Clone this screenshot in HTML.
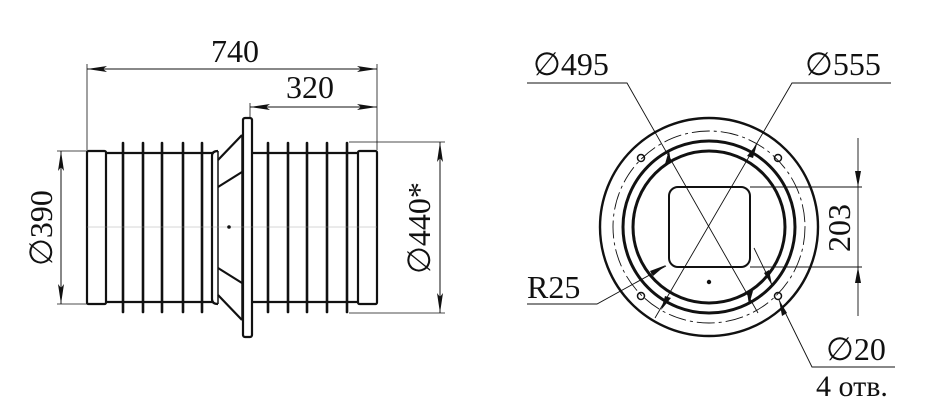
<!DOCTYPE html>
<html><head><meta charset="utf-8"><style>
html,body{margin:0;padding:0;background:#fff;}
svg{display:block;}
text{font-family:"Liberation Serif",serif;fill:#111;}
</style></head><body>
<svg width="936" height="412" viewBox="0 0 936 412" xmlns="http://www.w3.org/2000/svg">
<defs>
<marker id="a" viewBox="0 0 20 6" refX="20" refY="3" markerWidth="20" markerHeight="6" markerUnits="userSpaceOnUse" orient="auto-start-reverse"><path d="M0,0 L20,3 L0,6 L4,3z" fill="#111"/></marker>
</defs>
<g stroke="#111" fill="none">
<!-- dimension 740 -->
<line x1="87" y1="69" x2="377" y2="69" stroke-width="1" marker-start="url(#a)" marker-end="url(#a)"/>
<line x1="87" y1="64" x2="87" y2="150" stroke-width="0.8"/>
<line x1="377" y1="64" x2="377" y2="150" stroke-width="0.8"/>
<line x1="250" y1="107" x2="377" y2="107" stroke-width="1" marker-start="url(#a)" marker-end="url(#a)"/>
<line x1="250" y1="103" x2="250" y2="118" stroke-width="0.8"/>
<!-- 390 -->
<line x1="61" y1="151" x2="61" y2="304" stroke-width="1" marker-start="url(#a)" marker-end="url(#a)"/>
<line x1="57" y1="151" x2="87" y2="151" stroke-width="0.8"/>
<line x1="57" y1="304" x2="87" y2="304" stroke-width="0.8"/>
<!-- 440 -->
<line x1="440" y1="142" x2="440" y2="313" stroke-width="1" marker-start="url(#a)" marker-end="url(#a)"/>
<line x1="349" y1="142" x2="445" y2="142" stroke-width="0.8"/>
<line x1="349" y1="313" x2="445" y2="313" stroke-width="0.8"/>
<!-- left view body -->
<g stroke-width="2.2" stroke-linejoin="round">
<rect x="87" y="151" width="19" height="153" rx="1.5"/>
<rect x="358" y="151" width="19" height="153" rx="1.5"/>
<line x1="106" y1="153" x2="213" y2="153"/>
<line x1="106" y1="302" x2="213" y2="302"/>
<line x1="252" y1="153" x2="358" y2="153"/>
<line x1="252" y1="302" x2="358" y2="302"/>
<rect x="243" y="118" width="9" height="219" rx="2"/>
<path d="M218,151 Q212,151 212,156 L212,299 Q212,304 218,304"/>
<line x1="218" y1="151" x2="218" y2="304" stroke-width="1.5"/>
<line x1="218" y1="160" x2="242" y2="135"/>
<line x1="218" y1="187" x2="242" y2="172"/>
<line x1="218" y1="268" x2="242" y2="283"/>
<line x1="218" y1="295" x2="242" y2="320"/>
<line x1="242" y1="135" x2="242" y2="320" stroke-width="1.5"/>
</g>
<g stroke-width="2.6" stroke-linecap="round">
<line x1="123" y1="143" x2="123" y2="312"/><line x1="143" y1="143" x2="143" y2="312"/>
<line x1="162" y1="143" x2="162" y2="312"/><line x1="183" y1="143" x2="183" y2="312"/>
<line x1="202" y1="143" x2="202" y2="312"/>
<line x1="268" y1="143" x2="268" y2="312"/><line x1="288" y1="143" x2="288" y2="312"/>
<line x1="307" y1="143" x2="307" y2="312"/><line x1="327" y1="143" x2="327" y2="312"/>
<line x1="347" y1="143" x2="347" y2="312"/>
</g>
<line x1="87" y1="227" x2="377" y2="227" stroke-width="0.4" stroke="#999"/>
<circle cx="229" cy="227" r="1.8" fill="#111" stroke="none"/>

<!-- right view -->
<circle cx="709" cy="227" r="109" stroke-width="2.4"/>
<circle cx="709" cy="227" r="96" stroke-width="0.9" stroke-dasharray="18,4,3,4"/>
<circle cx="709" cy="227" r="86" stroke-width="3"/>
<circle cx="709" cy="227" r="76" stroke-width="3"/>
<rect x="669" y="187" width="81" height="80" rx="9" stroke-width="2"/>
<g stroke-width="1.5"><circle cx="641" cy="158" r="3.5"/><circle cx="778" cy="158" r="3.5"/><circle cx="641" cy="296" r="3.5"/><circle cx="778" cy="296" r="3.5"/></g>
<circle cx="709" cy="282" r="2.2" fill="#111" stroke="none"/>
<!-- leaders -->
<g stroke-width="0.9">
<polyline points="527,83 627,83 758,313"/>
<polyline points="891,83 792,83 655,318"/>
<polyline points="527,304 597,304 666,266"/>
<polyline points="895,367 812,367 779,300"/>
<line x1="754" y1="248" x2="772" y2="285"/>
<line x1="750" y1="187" x2="862" y2="187"/>
<line x1="750" y1="267" x2="862" y2="267"/>
<line x1="858" y1="138" x2="858" y2="316"/>
</g>
</g>
<!-- arrowheads -->
<g fill="#111">
<path d="M669,150 l-4,14 l6,-1z"/>
<path d="M749,305 l4,-14 l-6,1z"/>
<path d="M757,144 l-10,12 l6,2z"/>
<path d="M661,310 l10,-12 l-6,-2z"/>
<path d="M666,265 l-16,6 l3,5z"/>
<path d="M779,300 l3,16 l5,-3z"/>
<path d="M772,285 l-3,-15 l-5,3z"/>
<path d="M858,187 l-3,-16 l6,0z"/>
<path d="M858,267 l-3,16 l6,0z"/>
</g>
<text x="235" y="62" font-size="32" text-anchor="middle">740</text>
<text x="310" y="98" font-size="32" text-anchor="middle">320</text>
<text transform="translate(52,228) rotate(-90)" font-size="32" text-anchor="middle">∅390</text>
<text transform="translate(430,228) rotate(-90)" font-size="32" text-anchor="middle">∅440*</text>
<text transform="translate(850,228) rotate(-90)" font-size="32" text-anchor="middle">203</text>
<text x="533" y="75" font-size="32">∅495</text>
<text x="805" y="75" font-size="32">∅555</text>
<text x="527" y="298" font-size="32">R25</text>
<text x="826" y="360" font-size="32">∅20</text>
<text x="816" y="396" font-size="30">4 отв.</text>
</svg>
</body></html>
